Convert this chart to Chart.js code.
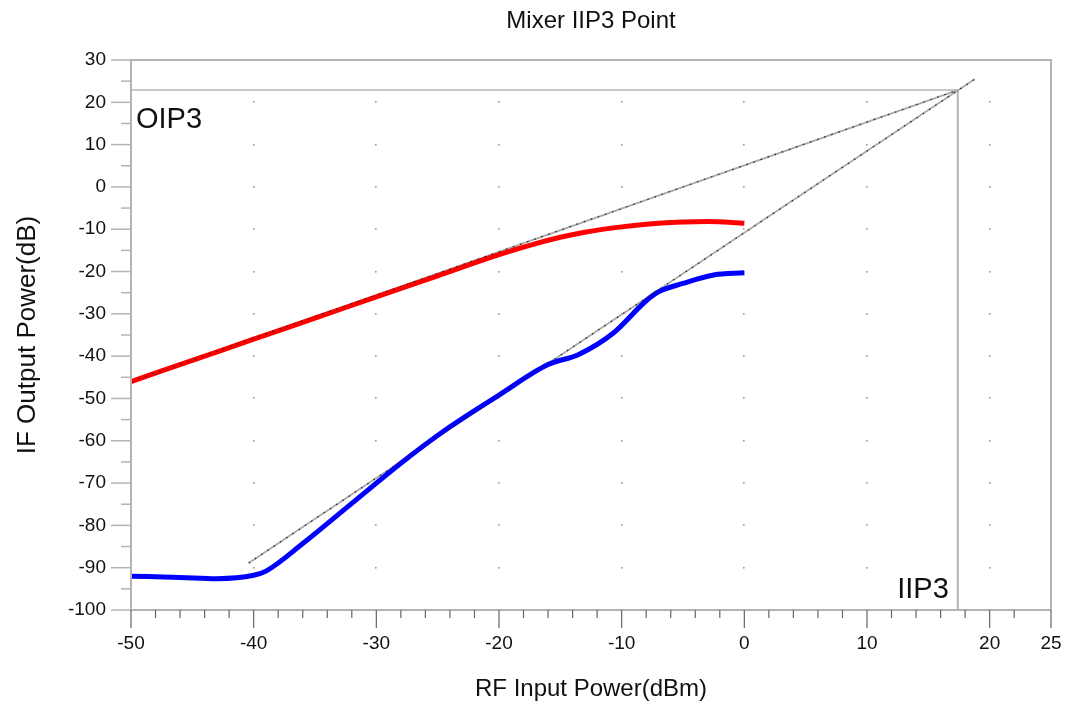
<!DOCTYPE html>
<html>
<head>
<meta charset="utf-8">
<script src="https://cdn.jsdelivr.net/npm/chart.js@4/dist/chart.umd.min.js"></script>
<style>
	html, body { margin: 0; padding: 0; background: #fff; overflow: hidden; }
	#wrap { width: 1070px; height: 708px; position: relative; }
</style>
</head>
<body>
<div id="wrap"><canvas id="chart"></canvas></div>
<script>
// values
const fundX = [-50, -45, -40, -35, -30, -25, -20, -17, -15, -13, -11, -9, -7, -5, -3, -1, 0];
const fundY = [-46, -41, -36, -31, -26, -21, -16, -13.4, -11.9, -10.7, -9.8, -9.1, -8.6, -8.3, -8.2, -8.4, -8.6];
const im3X = [-50, -46, -43, -40, -39, -36, -32, -28, -24, -20, -16, -13.5, -10.7, -8, -7, -5, -2.5, 0];
const im3Y = [-92, -92.3, -92.6, -91.8, -90.8, -84.3, -74.8, -65.3, -56.7, -49.2, -42, -39.6, -34.6, -26.9, -24.8, -22.8, -20.8, -20.3];
const fundTangentX = [-50, 17.4];
const fundTangentY = [-46, 22.9];
const im3TangentX = [-40.4, 18.8];
const im3TangentY = [-88.9, 25.5];
const OIP3 = 22.9;
const IIP3 = 17.4;
const X_MIN = -50, X_MAX = 25, Y_MIN = -100, Y_MAX = 30;

const FONT = "'Liberation Sans', Arial, sans-serif";
const AXIS_GRAY = '#b4b4b4';

function pts(xs, ys) {
	return xs.map((x, i) => ({ x: x, y: ys[i] }));
}

// axis lines, frame, tick marks and grid dots like the original plot
const frame_plugin = {
	id: 'frame',
	beforeDatasetsDraw(chart) {
		let ctx = chart.ctx;
		let xs = chart.scales.x, ys = chart.scales.y;
		ctx.save();
		// grid dots
		ctx.fillStyle = '#9a9a9a';
		for (let gx = -40; gx <= 20; gx += 10) {
			for (let gy = -90; gy <= 20; gy += 10) {
				ctx.fillRect(Math.round(xs.getPixelForValue(gx)) - 1, Math.round(ys.getPixelForValue(gy)) - 1, 1.6, 1.6);
			}
		}
		ctx.restore();
	},
	afterDraw(chart) {
		let ctx = chart.ctx;
		let xs = chart.scales.x, ys = chart.scales.y;
		let a = chart.chartArea;
		ctx.save();
		ctx.strokeStyle = AXIS_GRAY;
		ctx.lineWidth = 2;
		ctx.beginPath();
		ctx.moveTo(a.left, a.top);
		ctx.lineTo(a.right, a.top);
		ctx.lineTo(a.right, a.bottom);
		ctx.lineTo(a.left, a.bottom);
		ctx.closePath();
		ctx.stroke();
		// y ticks
		ctx.lineWidth = 1.5;
		ys.ticks.forEach(t => {
			let p = ys.getPixelForValue(t.value);
			let len = (t.value % 10 === 0) ? 20 : 10;
			ctx.beginPath();
			ctx.moveTo(a.left - len, p);
			ctx.lineTo(a.left, p);
			ctx.stroke();
		});
		// x ticks
		ctx.strokeStyle = '#666';
		ctx.lineWidth = 1.2;
		xs.ticks.forEach(t => {
			let p = xs.getPixelForValue(t.value);
			let len = (t.value % 10 === 0 || t.value === X_MAX) ? 18 : 8;
			ctx.beginPath();
			ctx.moveTo(p, a.bottom);
			ctx.lineTo(p, a.bottom + len);
			ctx.stroke();
		});
		// labels
		ctx.fillStyle = '#111';
		ctx.font = '24px ' + FONT;
		ctx.textAlign = 'center';
		ctx.textBaseline = 'middle';
		ctx.fillText('Mixer IIP3 Point', (a.left + a.right) / 2, 21);
		ctx.font = '29px ' + FONT;
		ctx.textAlign = 'left';
		ctx.textBaseline = 'alphabetic';
		ctx.fillText('OIP3', xs.getPixelForValue(X_MIN) + 5, ys.getPixelForValue(OIP3) + 38);
		ctx.textAlign = 'right';
		ctx.fillText('IIP3', xs.getPixelForValue(IIP3) - 9, a.bottom - 12);
		ctx.restore();
	}
};

const line_ds = (label, data, color, width, extra = {}) => Object.assign({
	label: label,
	data: data,
	borderColor: color,
	borderWidth: width,
	pointRadius: 0,
	fill: false,
	showLine: true,
	tension: 0
}, extra);

const datasets = [
	line_ds('fund tangent dots', pts(fundTangentX, fundTangentY), '#222', 1.2, { borderDash: [1.5, 6] }),
	line_ds('im3 tangent dots', pts(im3TangentX, im3TangentY), '#222', 1.2, { borderDash: [1.5, 6] }),
	line_ds('Fundamental', pts(fundX, fundY), '#ff0000', 5, { cubicInterpolationMode: 'monotone' }),
	line_ds('IM3', pts(im3X, im3Y), '#0000ff', 5, { cubicInterpolationMode: 'monotone' }),
	line_ds('fund tangent', pts(fundTangentX, fundTangentY), '#aaaaaa', 1.8),
	line_ds('im3 tangent', pts(im3TangentX, im3TangentY), '#aaaaaa', 1.8),
	line_ds('OIP3', pts([X_MIN, IIP3], [OIP3, OIP3]), AXIS_GRAY, 1.5),
	line_ds('IIP3', pts([IIP3, IIP3], [OIP3, Y_MIN]), AXIS_GRAY, 2)
];

Chart.defaults.font.family = FONT;
Chart.defaults.color = '#111';

let chart = new Chart(document.getElementById('chart'), {
	type: 'scatter',
	data: { datasets: datasets },
	options: {
		responsive: true,
		maintainAspectRatio: false,
		animation: false,
		layout: { padding: { top: 60, right: 19, bottom: 0, left: 0 } },
		plugins: {
			legend: { display: false },
			tooltip: { enabled: false },
			title: { display: false }
		},
		scales: {
			x: {
				type: 'linear',
				min: X_MIN,
				max: X_MAX,
				grid: { display: false, drawTicks: false },
				border: { display: false },
				ticks: {
					stepSize: 2,
					autoSkip: false,
					maxRotation: 0,
					padding: 22,
					font: { size: 19 },
					callback: (v) => (v % 10 === 0 || v === X_MAX) ? v : ''
				},
				title: {
					display: true,
					text: 'RF Input Power(dBm)',
					font: { size: 24 },
					padding: { top: 0, bottom: 4 }
				},
				afterFit: (scale) => {
					scale.height = 98;
					// label padding from ticks.padding would shrink the plot on the right
					scale.paddingLeft = 0;
					scale.paddingRight = 12;
				}
			},
			y: {
				type: 'linear',
				min: Y_MIN,
				max: Y_MAX,
				grid: { display: false, drawTicks: false },
				border: { display: false },
				ticks: {
					stepSize: 5,
					autoSkip: false,
					padding: 25,
					font: { size: 19 },
					callback: (v) => (v % 10 === 0) ? v : ''
				},
				title: {
					display: true,
					text: 'IF Output Power(dB)',
					font: { size: 26 },
					padding: { top: 12, bottom: 0 }
				},
				afterFit: (scale) => { scale.width = 131; }
			}
		}
	},
	plugins: [frame_plugin]
});
</script>
</body>
</html>
